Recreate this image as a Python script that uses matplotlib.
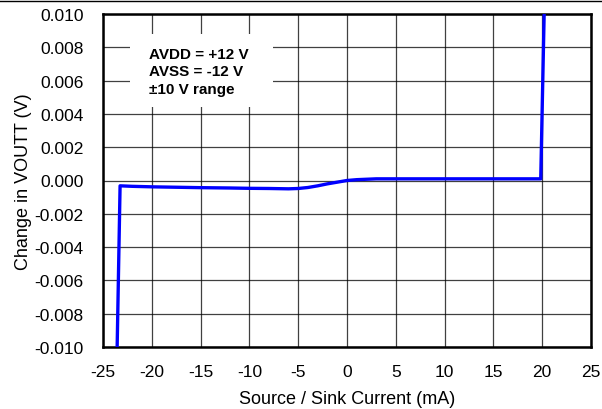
import matplotlib.pyplot as plt
from matplotlib.lines import Line2D
from matplotlib.patches import Rectangle

# Output change vs load current
current_ma = [-23.55, -23.25, -22.0, -20.0, -18.0, -15.0, -12.0, -10.0, -8.0, -6.0,
              -5.0, -4.0, -3.0, -2.0, -1.0, 0.0, 1.0, 3.0, 5.0, 8.0, 10.0,
              12.0, 15.0, 17.0, 19.85, 20.2]
delta_vout = [-0.010, -0.00032, -0.00035, -0.00038, -0.0004, -0.00043, -0.00045,
              -0.00047, -0.00048, -0.0005, -0.00048, -0.00042, -0.00032, -0.0002,
              -0.0001, 0.0, 0.00005, 0.0001, 0.0001, 0.0001, 0.0001, 0.0001,
              0.0001, 0.0001, 0.0001, 0.010]

x_ticks = list(range(-25, 30, 5))
y_ticks = [-0.010, -0.008, -0.006, -0.004, -0.002, 0.0, 0.002, 0.004, 0.006, 0.008, 0.010]
note_lines = ["AVDD = +12 V", "AVSS = -12 V", "\u00b110 V range"]

plt.rcParams["font.family"] = ["Liberation Sans", "DejaVu Sans"]

fig = plt.figure(figsize=(6.02, 4.10), dpi=100)
ax = fig.add_axes([103 / 602, 1 - 348 / 410, 488 / 602, 333 / 410])

ax.plot(current_ma, delta_vout, color="#0000ff", linewidth=2.4, zorder=3)

ax.set_xlim(-25, 25)
ax.set_ylim(-0.010, 0.010)
ax.set_xticks(x_ticks)
ax.set_yticks(y_ticks)
ax.set_xticklabels([str(t) for t in x_ticks])
ax.set_yticklabels([f"{t:.3f}" for t in y_ticks])
ax.tick_params(length=0, labelsize=12.5)
ax.tick_params(axis="y", pad=14)
ax.tick_params(axis="x", pad=12)
ax.grid(True, color="#000000", linewidth=0.9, alpha=0.75)
for s in ax.spines.values():
    s.set_linewidth(1.8)

ax.set_xlabel("Source / Sink Current (mA)", fontsize=13, labelpad=8)
ax.set_ylabel("Change in VOUTT (V)", fontsize=13, labelpad=2)

# white panel behind the conditions note
ax.add_patch(Rectangle((27 / 488, 240 / 333), 143 / 488, 73 / 333,
                       transform=ax.transAxes, facecolor="white",
                       edgecolor="none", zorder=2.5))
ax.text(46 / 488, 300 / 333, "\n".join(note_lines), transform=ax.transAxes,
        fontsize=11, fontweight="bold", va="top", ha="left", linespacing=1.3,
        zorder=4)

# thin rule across the top of the figure
fig.add_artist(Line2D([0, 1], [1 - 1.5 / 410, 1 - 1.5 / 410], color="black",
                      linewidth=1.0, transform=fig.transFigure))

fig.savefig("out.png", dpi=100)
